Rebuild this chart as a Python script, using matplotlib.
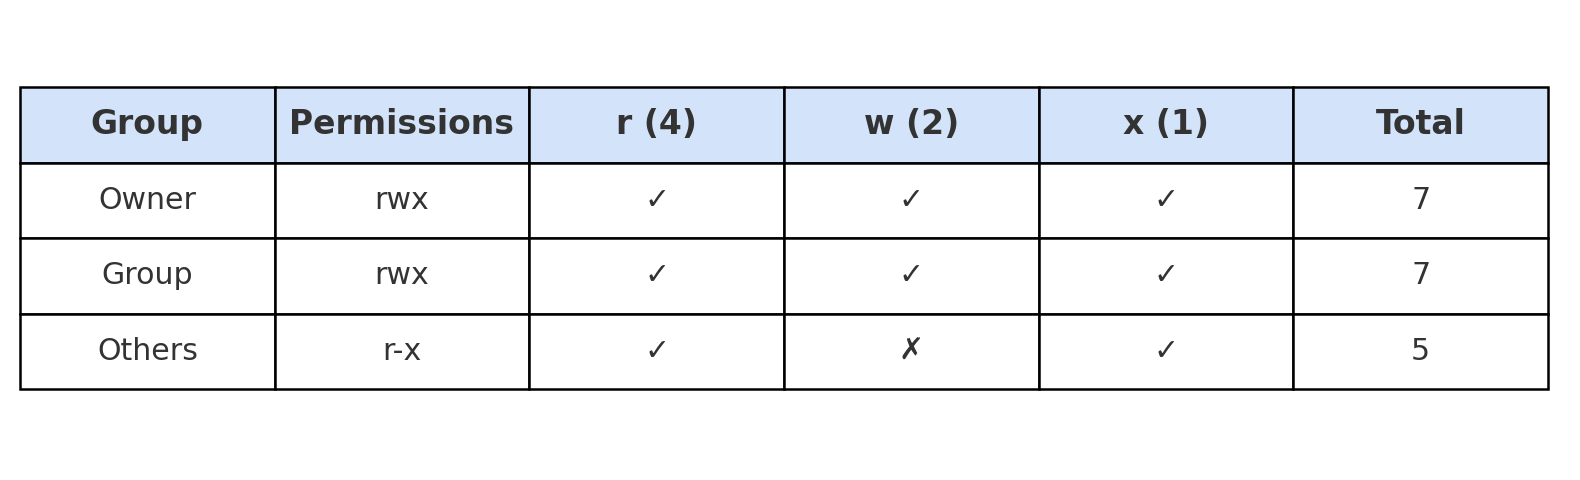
import matplotlib
matplotlib.use("Agg")
import matplotlib.pyplot as plt

columns = ["Group", "Permissions", "r (4)", "w (2)", "x (1)", "Total"]
groups = ["Owner", "Group", "Others"]
perms = ["rwx", "rwx", "r-x"]
read_bits = ["✓", "✓", "✓"]
write_bits = ["✓", "✓", "✗"]
exec_bits = ["✓", "✓", "✓"]
totals = ["7", "7", "5"]

HEADER_BG = "#D2E3FA"
TEXT_COLOR = "#333333"

rows = [list(r) for r in zip(groups, perms, read_bits, write_bits, exec_bits, totals)]

fig = plt.figure(figsize=(15.8, 4.8), dpi=100)
ax = fig.add_axes([0, 0, 1, 1])
ax.axis("off")

tbl = ax.table(cellText=rows, colLabels=columns, cellLoc="center",
               bbox=[20 / 1580, 1 - 389 / 480, 1528 / 1580, 302 / 480])
tbl.auto_set_font_size(False)

for (r, c), cell in tbl.get_celld().items():
    cell.set_edgecolor("black")
    cell.set_linewidth(1.8)
    txt = cell.get_text()
    txt.set_color(TEXT_COLOR)
    if r == 0:
        cell.set_facecolor(HEADER_BG)
        txt.set_fontweight("bold")
        txt.set_fontsize(23.8)
    else:
        cell.set_facecolor("white")
        txt.set_fontsize(21.6)

fig.savefig("out.png", dpi=100)
